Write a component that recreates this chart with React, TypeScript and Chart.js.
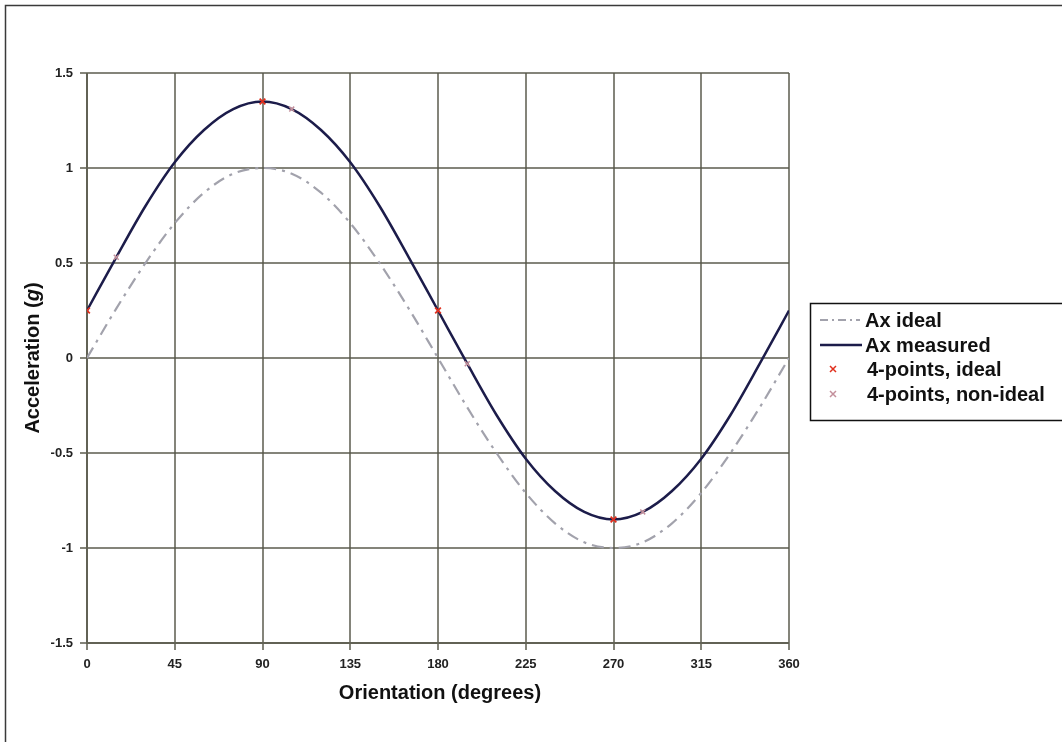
import React, { useEffect, useRef } from "react";
import { Chart, registerables } from "chart.js";

Chart.register(...registerables);

const angles = [0, 15, 30, 45, 60, 75, 90, 105, 120, 135, 150, 165, 180, 195, 210, 225, 240, 255, 270, 285, 300, 315, 330, 345, 360];
const axIdeal = [0, 0.26, 0.5, 0.71, 0.87, 0.97, 1, 0.97, 0.87, 0.71, 0.5, 0.26, 0, -0.26, -0.5, -0.71, -0.87, -0.97, -1, -0.97, -0.87, -0.71, -0.5, -0.26, 0];
const axMeasured = [0.25, 0.53, 0.8, 1.03, 1.2, 1.31, 1.35, 1.31, 1.2, 1.03, 0.8, 0.53, 0.25, -0.03, -0.3, -0.53, -0.7, -0.81, -0.85, -0.81, -0.7, -0.53, -0.3, -0.03, 0.25];
const idealPointAngles = [0, 90, 180, 270];
const idealPointValues = [0.25, 1.35, 0.25, -0.85];
const nonIdealPointAngles = [15, 105, 195, 285];
const nonIdealPointValues = [0.53, 1.31, -0.03, -0.81];
const legendLabels = ["Ax ideal", "Ax measured", "4-points, ideal", "4-points, non-ideal"];
const xTitle = "Orientation (degrees)";
const yTitleParts = ["Acceleration (", "g", ")"];

const FONT = '"Liberation Sans", Arial, sans-serif';
const GRID = "rgba(85,85,70,0.72)";
const MEASURED = "#1c1c4a";
const IDEAL = "#a2a2ac";
const RED = "#e0301e";
const PINK = "#c4909c";

const toXY = (xs: number[], ys: number[]) => xs.map((x, i) => ({ x, y: ys[i] }));

const decorPlugin = {
  id: "decor",
  afterDraw(chart: any) {
    const ctx = chart.ctx as CanvasRenderingContext2D;
    const area = chart.chartArea;
    ctx.save();
    // outer frame
    ctx.strokeStyle = "#3a3a3a";
    ctx.lineWidth = 1.5;
    ctx.beginPath();
    ctx.moveTo(5.5, 742);
    ctx.lineTo(5.5, 5.5);
    ctx.lineTo(1062, 5.5);
    ctx.stroke();

    // x title
    ctx.fillStyle = "#111";
    ctx.font = `bold 20px ${FONT}`;
    ctx.textAlign = "center";
    ctx.textBaseline = "middle";
    ctx.fillText(xTitle, (area.left + area.right) / 2 + 2, 693);

    // y title with italic g
    ctx.save();
    ctx.translate(33, (area.top + area.bottom) / 2);
    ctx.rotate(-Math.PI / 2);
    const fonts = [`bold 20px ${FONT}`, `italic bold 20px ${FONT}`, `bold 20px ${FONT}`];
    let total = 0;
    const widths = yTitleParts.map((p, i) => {
      ctx.font = fonts[i];
      const w = ctx.measureText(p).width;
      total += w;
      return w;
    });
    let cx = -total / 2;
    ctx.textAlign = "left";
    yTitleParts.forEach((p, i) => {
      ctx.font = fonts[i];
      ctx.fillText(p, cx, 0);
      cx += widths[i];
    });
    ctx.restore();

    // legend box
    const bx = 810.5, by = 303.5;
    ctx.strokeStyle = "#111";
    ctx.lineWidth = 1.5;
    ctx.beginPath();
    ctx.moveTo(1070, by);
    ctx.lineTo(bx, by);
    ctx.lineTo(bx, 420.5);
    ctx.lineTo(1070, 420.5);
    ctx.stroke();

    const rows = [320, 345, 369, 394];
    // row 1: dash-dot line
    ctx.strokeStyle = IDEAL;
    ctx.lineWidth = 2;
    ctx.setLineDash([8, 4, 2, 4]);
    ctx.beginPath();
    ctx.moveTo(820, rows[0]);
    ctx.lineTo(860, rows[0]);
    ctx.stroke();
    ctx.setLineDash([]);
    // row 2: solid line
    ctx.strokeStyle = MEASURED;
    ctx.lineWidth = 2.5;
    ctx.beginPath();
    ctx.moveTo(820, rows[1]);
    ctx.lineTo(862, rows[1]);
    ctx.stroke();
    // rows 3-4: crosses
    const cross = (x: number, y: number, c: string) => {
      ctx.strokeStyle = c;
      ctx.lineWidth = 1.5;
      ctx.beginPath();
      ctx.moveTo(x - 3, y - 3);
      ctx.lineTo(x + 3, y + 3);
      ctx.moveTo(x + 3, y - 3);
      ctx.lineTo(x - 3, y + 3);
      ctx.stroke();
    };
    cross(833, rows[2], RED);
    cross(833, rows[3], PINK);

    ctx.fillStyle = "#111";
    ctx.font = `bold 20px ${FONT}`;
    ctx.textAlign = "left";
    ctx.textBaseline = "middle";
    legendLabels.forEach((t, i) => {
      ctx.fillText(t, i < 2 ? 865 : 867, rows[i] + 1);
    });
    ctx.restore();
  },
};

export default function App() {
  const ref = useRef<HTMLCanvasElement | null>(null);
  useEffect(() => {
    if (!ref.current) return;
    const chart = new Chart(ref.current, {
      type: "line",
      data: {
        datasets: [
          {
            label: legendLabels[2],
            data: toXY(idealPointAngles, idealPointValues),
            showLine: false,
            pointStyle: "crossRot",
            pointRadius: 4,
            pointBorderWidth: 1.8,
            borderColor: RED,
            backgroundColor: RED,
            order: 0,
          },
          {
            label: legendLabels[3],
            data: toXY(nonIdealPointAngles, nonIdealPointValues),
            showLine: false,
            pointStyle: "crossRot",
            pointRadius: 3.5,
            pointBorderWidth: 1.5,
            borderColor: PINK,
            backgroundColor: PINK,
            order: 0,
          },
          {
            label: legendLabels[1],
            data: toXY(angles, axMeasured),
            borderColor: MEASURED,
            borderWidth: 2.5,
            pointRadius: 0,
            cubicInterpolationMode: "monotone",
            fill: false,
            order: 1,
          },
          {
            label: legendLabels[0],
            data: toXY(angles, axIdeal),
            borderColor: IDEAL,
            borderWidth: 2.2,
            borderDash: [12, 6, 3, 6],
            pointRadius: 0,
            cubicInterpolationMode: "monotone",
            fill: false,
            order: 2,
          },
        ],
      },
      options: {
        responsive: false,
        animation: false,
        devicePixelRatio: 1,
        layout: { padding: { top: 73, right: 273, left: 0, bottom: 0 } },
        plugins: { legend: { display: false }, tooltip: { enabled: false }, title: { display: false } },
        scales: {
          x: {
            type: "linear",
            min: 0,
            max: 360,
            ticks: {
              stepSize: 45,
              padding: 7,
              color: "#222",
              font: { family: FONT, size: 13, weight: "bold" },
              maxRotation: 0,
            },
            grid: { color: GRID, lineWidth: 2, tickLength: 7, tickColor: GRID },
            border: { display: true, color: GRID, width: 2 },
            afterFit: (s: any) => {
              s.height = 99;
            },
          },
          y: {
            type: "linear",
            min: -1.5,
            max: 1.5,
            ticks: {
              stepSize: 0.5,
              padding: 7,
              color: "#222",
              font: { family: FONT, size: 13, weight: "bold" },
              callback: (v: any) => String(v),
            },
            grid: { color: GRID, lineWidth: 2, tickLength: 7, tickColor: GRID },
            border: { display: true, color: GRID, width: 2 },
            afterFit: (s: any) => {
              s.width = 87;
            },
          },
        },
      },
      plugins: [decorPlugin],
    } as any);
    return () => chart.destroy();
  }, []);
  return (
    <div style={{ position: "absolute", left: 0, top: 0, width: 1062, height: 742, background: "#fff" }}>
      <canvas ref={ref} width={1062} height={742} style={{ display: "block", width: 1062, height: 742 }} />
    </div>
  );
}
